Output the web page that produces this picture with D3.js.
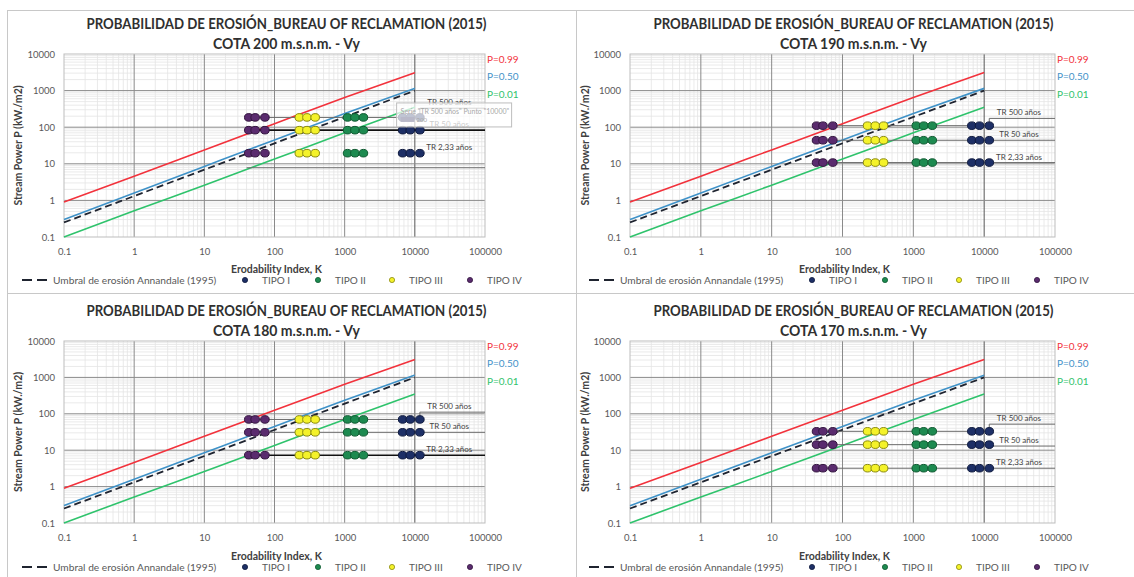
<!DOCTYPE html>
<html>
<head>
<meta charset="utf-8">
<script src="https://cdn.jsdelivr.net/npm/d3@7"></script>
<style>
  body { margin: 0; background: #fff; }
  svg { display: block; font-family: Lato, "Open Sans", sans-serif; }
</style>
</head>
<body>
<svg id="chart" width="1134" height="577"></svg>
<script>
// Erodability index K of the three samples of each rock type
const kTipoI   = [6700, 8600, 11800];
const kTipoII  = [1100, 1400, 1850];
const kTipoIII = [226, 290, 380];
const kTipoIV  = [43, 53, 73];
const tipoNames = ["TIPO I", "TIPO II", "TIPO III", "TIPO IV"];

// Bureau of Reclamation (2015) erosion probability curves, P vs K
const curveK   = [0.1, 1, 10, 100, 1000, 10000];
const pCurve99 = [0.9, 4.6, 24, 125, 650, 3100];
const pCurve50 = [0.3, 1.6, 8.5, 45, 235, 1150];
const pCurve01 = [0.1, 0.52, 2.6, 13.5, 70, 350];
const curveNames = ["P=0.99", "P=0.50", "P=0.01"];

// Annandale (1995) erosion threshold
const annandaleK = [0.1, 10000];
const annandaleP = [0.25, 1000];

// Axis ticks
const xTicks = [0.1, 1, 10, 100, 1000, 10000, 100000];
const yTicks = [0.1, 1, 10, 100, 1000, 10000];
const xTickLabels = ["0.1", "1", "10", "100", "1000", "10000", "100000"];
const yTickLabels = ["0.1", "1", "10", "100", "1000", "10000"];

// Elevations and return periods
const cotas = [200, 190, 180, 170];
const trNames = ["TR 500 años", "TR 50 años", "TR 2,33 años"];
const trStartK = 40;
const trStepK = 11800;
const trEndK = 100000;

// Stream power (kW/m2) per return period [TR 500, TR 50, TR 2,33]
const dotP200 = [185, 83, 19.5];
const dotP190 = [110, 44, 10.8];
const dotP180 = [70, 31, 7.3];
const dotP170 = [33, 14.2, 3.2];
// level of the return-period line across the samples
const lineP200 = [185, 83, 7.8];
const lineP190 = [110, 44, 10.8];
const lineP180 = [70, 31, 7.3];
const lineP170 = [33, 14.2, 3.2];
// level of the line beyond the last sample (carries the label)
const tailP200 = [330, 83, 7.8];
const tailP190 = [174, 44, 10.8];
const tailP180 = [111, 31, 7.3];
const tailP170 = [52, 13, 3.2];
// level the label sits on
const labelP200 = [330, 83, 19.5];
const labelP190 = [174, 44, 10.8];
const labelP180 = [111, 31, 7.3];
const labelP170 = [52, 13, 3.2];

const dotPs = [dotP200, dotP190, dotP180, dotP170];
const linePs = [lineP200, lineP190, lineP180, lineP170];
const tailPs = [tailP200, tailP190, tailP180, tailP170];
const labelPs = [labelP200, labelP190, labelP180, labelP170];
const tipoKs = [kTipoI, kTipoII, kTipoIII, kTipoIV];
const curvePs = [pCurve99, pCurve50, pCurve01];

// ---- styling ----
const curveColors = ["#f2323c", "#3f92c8", "#2fc36c"];
const tipoFill   = ["#1d2f66", "#1d8a50", "#f4f22a", "#5a2b6e"];
const tipoStroke = ["#0f1a3e", "#0f5a31", "#8a8a10", "#341640"];
const textGray = "#595959";
// index of the return-period line drawn in black per panel
const boldLine = [1, -1, 2, -1];

const panels = [
  { ox: 0,   oy: 0,   left: 64,  right: 485,  top: 54,  bottom: 237 },
  { ox: 567, oy: 0,   left: 630, right: 1055, top: 54,  bottom: 237 },
  { ox: 0,   oy: 287, left: 64,  right: 485,  top: 341, bottom: 523 },
  { ox: 567, oy: 287, left: 630, right: 1055, top: 341, bottom: 523 }
];

const svg = d3.select("#chart");

// panel frames
svg.append("rect").attr("x", 7.5).attr("y", 10.5).attr("width", 1140).attr("height", 600)
  .attr("fill", "none").attr("stroke", "#c8c8c8");
svg.append("line").attr("x1", 576.5).attr("x2", 576.5).attr("y1", 10).attr("y2", 577)
  .attr("stroke", "#c8c8c8");
svg.append("line").attr("x1", 7).attr("x2", 1134).attr("y1", 293.5).attr("y2", 293.5)
  .attr("stroke", "#c8c8c8");

function minorValues(lo, hi) {
  const out = [];
  for (let e = Math.round(Math.log10(lo)); e < Math.round(Math.log10(hi)); e++) {
    for (let m = 2; m <= 9; m++) out.push(m * Math.pow(10, e));
  }
  return out;
}

panels.forEach((p, pi) => {
  const g = svg.append("g");
  const x = d3.scaleLog().domain([0.1, 100000]).range([p.left, p.right]);
  const y = d3.scaleLog().domain([0.1, 10000]).range([p.bottom, p.top]);

  // minor grid
  g.append("g").selectAll("line").data(minorValues(0.1, 100000)).join("line")
    .attr("x1", d => x(d)).attr("x2", d => x(d)).attr("y1", p.top).attr("y2", p.bottom)
    .attr("stroke", "#e4e4e4").attr("stroke-width", 0.8);
  g.append("g").selectAll("line").data(minorValues(0.1, 10000)).join("line")
    .attr("y1", d => y(d)).attr("y2", d => y(d)).attr("x1", p.left).attr("x2", p.right)
    .attr("stroke", "#e4e4e4").attr("stroke-width", 0.8);
  // major grid
  g.append("g").selectAll("line").data(xTicks.slice(1, -1)).join("line")
    .attr("x1", d => x(d)).attr("x2", d => x(d)).attr("y1", p.top).attr("y2", p.bottom)
    .attr("stroke", d => d === 10000 ? "#555" : "#8a8a8a").attr("stroke-width", 1);
  g.append("g").selectAll("line").data(yTicks.slice(1, -1)).join("line")
    .attr("y1", d => y(d)).attr("y2", d => y(d)).attr("x1", p.left).attr("x2", p.right)
    .attr("stroke", "#8a8a8a").attr("stroke-width", 1);
  g.append("rect").attr("x", p.left).attr("y", p.top)
    .attr("width", p.right - p.left).attr("height", p.bottom - p.top)
    .attr("fill", "none").attr("stroke", "#bdbdbd");

  // axes (labels only)
  const xAxis = d3.axisBottom(x).tickValues(xTicks).tickSize(0)
    .tickFormat((d, i) => xTickLabels[i]);
  const gx = g.append("g").attr("transform", `translate(0,${p.bottom + 8})`).call(xAxis);
  const yAxis = d3.axisLeft(y).tickValues(yTicks).tickSize(0)
    .tickFormat((d, i) => yTickLabels[i]);
  const gy = g.append("g").attr("transform", `translate(${p.left - 6},0)`).call(yAxis);
  [gx, gy].forEach(a => {
    a.select(".domain").remove();
    a.selectAll("text").attr("fill", textGray).attr("font-size", 9.5)
      .attr("font-family", "Lato, 'Open Sans', sans-serif");
  });

  const line = d3.line().x(d => x(d[0])).y(d => y(d[1]));

  // probability curves
  curvePs.forEach((vals, ci) => {
    g.append("path").datum(curveK.map((k, i) => [k, vals[i]]))
      .attr("d", line.curve(d3.curveMonotoneX)).attr("fill", "none")
      .attr("stroke", curveColors[ci]).attr("stroke-width", 1.6);
  });
  // Annandale threshold
  g.append("path").datum(annandaleK.map((k, i) => [k, annandaleP[i]]))
    .attr("d", d3.line().x(d => x(d[0])).y(d => y(d[1])))
    .attr("fill", "none").attr("stroke", "#1f2430").attr("stroke-width", 1.8)
    .attr("stroke-dasharray", "7,4");

  // return-period lines
  const lp = linePs[pi], tp = tailPs[pi];
  trNames.forEach((name, ti) => {
    const pts = [[trStartK, lp[ti]], [trStepK, lp[ti]], [trStepK, tp[ti]], [trEndK, tp[ti]]];
    const strong = boldLine[pi] === ti;
    g.append("path").datum(pts)
      .attr("d", d3.line().x(d => x(d[0])).y(d => y(d[1])))
      .attr("fill", "none").attr("stroke", strong ? "#111" : "#6a6a6a")
      .attr("stroke-width", strong ? 1.6 : 1);
  });

  // samples
  const dp = dotPs[pi];
  tipoKs.forEach((ks, ti) => {
    const pts = [];
    dp.forEach(pv => ks.forEach(k => pts.push([k, pv])));
    g.append("g").selectAll("ellipse").data(pts).join("ellipse")
      .attr("cx", d => x(d[0])).attr("cy", d => y(d[1])).attr("rx", 4.3).attr("ry", 3.8)
      .attr("fill", tipoFill[ti]).attr("stroke", tipoStroke[ti]).attr("stroke-width", 1);
  });

  // return-period labels
  const lbl = labelPs[pi];
  trNames.forEach((name, ti) => {
    g.append("text").attr("x", x(31000)).attr("y", y(lbl[ti]) - 3)
      .attr("text-anchor", "middle").attr("font-size", 8).attr("fill", "#444")
      .text(name);
  });

  // hover box over the TR 500 series in the first panel
  if (pi === 0) {
    const bx = x(5500), by = y(460);
    const tip = g.append("g");
    tip.append("rect").attr("x", bx).attr("y", by).attr("width", 115).attr("height", 24)
      .attr("fill", "#fff").attr("fill-opacity", 0.72).attr("stroke", "#bdbdbd");
    tip.append("text").attr("x", bx + 4).attr("y", by + 11.5).attr("font-size", 7)
      .attr("fill", "#a8a8a8").text("Serie \"TR 500 años\" Punto \"10000\"");
    tip.append("rect").attr("x", bx + 4).attr("y", by + 14).attr("width", 14).attr("height", 5)
      .attr("fill", "#b9b9c9");
    tip.append("text").attr("x", bx + 20).attr("y", by + 19).attr("font-size", 6)
      .attr("fill", "#a8a8a8").text("200");
  }

  // curve labels at right
  const cy = [59, 76, 94];
  curveNames.forEach((n, ci) => {
    g.append("text").attr("x", p.right + 2).attr("y", p.oy + cy[ci] + 3.5)
      .attr("font-size", 10).attr("fill", curveColors[ci]).text(n);
  });

  // titles
  const cx = p.ox + 286.5;
  g.append("text").attr("x", cx).attr("y", p.oy + 28.5).attr("text-anchor", "middle")
    .attr("font-size", 15.5).attr("font-weight", "bold").attr("fill", "#303030")
    .attr("textLength", 400).attr("lengthAdjust", "spacingAndGlyphs")
    .text("PROBABILIDAD DE EROSIÓN_BUREAU OF RECLAMATION (2015)");
  g.append("text").attr("x", cx).attr("y", p.oy + 48.5).attr("text-anchor", "middle")
    .attr("font-size", 15.5).attr("font-weight", "bold").attr("fill", "#303030")
    .attr("textLength", 147).attr("lengthAdjust", "spacingAndGlyphs")
    .text(`COTA ${cotas[pi]} m.s.n.m. - Vy`);

  // axis titles
  g.append("text").attr("x", (p.left + p.right) / 2 + 2).attr("y", p.oy + 273)
    .attr("text-anchor", "middle").attr("font-size", 10.5).attr("font-weight", "bold")
    .attr("fill", "#404040").text("Erodability Index, K");
  g.append("text")
    .attr("transform", `translate(${p.ox + 22},${(p.top + p.bottom) / 2}) rotate(-90)`)
    .attr("text-anchor", "middle").attr("font-size", 10.5).attr("font-weight", "bold")
    .attr("fill", "#404040").text("Stream Power P (kW./m2)");

  // legend
  const ly = p.oy + 280;
  const lg = g.append("g");
  lg.append("line").attr("x1", p.ox + 22).attr("x2", p.ox + 48).attr("y1", ly).attr("y2", ly)
    .attr("stroke", "#1f2430").attr("stroke-width", 1.8).attr("stroke-dasharray", "10,5");
  lg.append("text").attr("x", p.ox + 53).attr("y", ly + 3.5).attr("font-size", 10.2)
    .attr("fill", textGray).text("Umbral de erosión Annandale (1995)");
  const legX = [245, 318, 392, 470];
  tipoNames.forEach((n, ti) => {
    lg.append("circle").attr("cx", p.ox + legX[ti]).attr("cy", ly).attr("r", 2.6)
      .attr("fill", tipoFill[ti]).attr("stroke", tipoStroke[ti]).attr("stroke-width", 0.8);
    lg.append("text").attr("x", p.ox + legX[ti] + 17).attr("y", ly + 3.5).attr("font-size", 10)
      .attr("fill", textGray).text(n);
  });
});
</script>
</body>
</html>
